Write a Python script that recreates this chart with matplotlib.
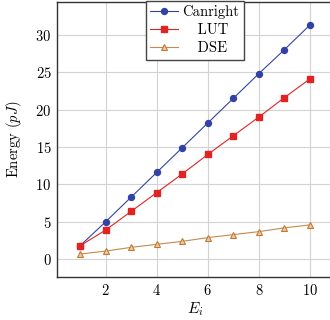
import matplotlib
matplotlib.use("Agg")
import matplotlib.pyplot as plt

plt.rcParams['font.family'] = ['cmr10', 'DejaVu Serif']
plt.rcParams['mathtext.fontset'] = 'cm'
plt.rcParams['axes.formatter.use_mathtext'] = True

# data
e_i = [1, 2, 3, 4, 5, 6, 7, 8, 9, 10]
canright = [1.8, 5.0, 8.3, 11.6, 14.9, 18.2, 21.5, 24.8, 28.0, 31.3]
lut = [1.8, 3.9, 6.4, 8.9, 11.4, 14.0, 16.5, 19.0, 21.6, 24.1]
dse = [0.7, 1.1, 1.6, 2.0, 2.4, 2.9, 3.3, 3.7, 4.2, 4.6]
labels = ["Canright", "   LUT", "   DSE"]

fig = plt.figure(figsize=(3.3, 3.2), dpi=100)
ax = fig.add_axes([57 / 330, 43 / 320, 276 / 330, 275 / 320])

ax.plot(e_i, canright, color='#3343a5', lw=0.8, marker='o', ms=4.3,
        mfc='#3343a5', mec='#3343a5', label=labels[0], zorder=3)
ax.plot(e_i, lut, color='#e02424', lw=0.8, marker='s', ms=4.3,
        mfc='#e02424', mec='#e02424', label=labels[1], zorder=3)
ax.plot(e_i, dse, color='#c58a4e', lw=0.8, marker='^', ms=4.2,
        mfc='#f0c79a', mec='#c07a38', mew=0.8, label=labels[2], zorder=3)

ax.set_xlim(0.1, 10.9)
ax.set_ylim(-2.36, 34.36)
ax.set_xticks([2, 4, 6, 8, 10])
ax.set_yticks([0, 5, 10, 15, 20, 25, 30])
ax.grid(True, color='#d3d3d3', lw=0.8)
ax.set_axisbelow(True)
ax.tick_params(length=0, labelsize=10.5, pad=4)
for s in ax.spines.values():
    s.set_color('#333333')
    s.set_linewidth(1.0)
ax.spines['right'].set_visible(False)

ax.set_xlabel('$E_i$', fontsize=11, labelpad=2)
ax.set_ylabel('Energy $(pJ)$', fontsize=10.5, labelpad=8)

leg = ax.legend(loc='upper center', bbox_to_anchor=(0.5, 1.005), fontsize=10.5,
                frameon=True, fancybox=False, handlelength=1.9,
                handletextpad=0.3, borderpad=0.3, labelspacing=0.3,
                borderaxespad=0.0)
leg.get_frame().set_edgecolor('#444444')
leg.get_frame().set_linewidth(1.0)
leg.get_frame().set_alpha(1)

fig.savefig('out.png', dpi=100)
